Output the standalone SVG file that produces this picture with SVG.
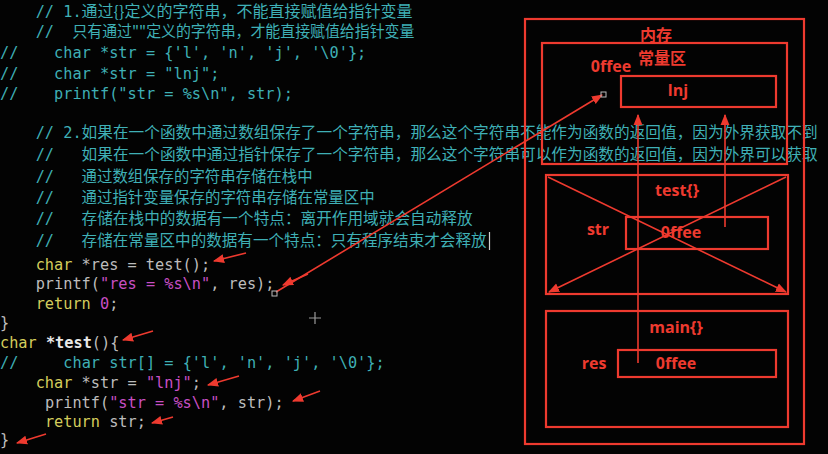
<svg xmlns="http://www.w3.org/2000/svg" width="828" height="454" viewBox="0 0 828 454">
<defs>
<style>
.c{font-family:"DejaVu Sans Mono","Liberation Mono",monospace;font-size:15.25px;fill:#bdbdbd}
.z{font-family:"Noto Sans CJK SC","DejaVu Sans Mono",sans-serif;font-size:15.5px;fill:#3fb0b6}
.cm{fill:#3fb0b6}
.kw{fill:#d4cd5c}
.st{fill:#c84fc4}
.bw{fill:#e8e8e8;font-weight:bold}
.box{fill:none;stroke:#ee3a2f;stroke-width:2.2}
.ln{fill:none;stroke:#ee3a2f;stroke-width:1.6}
.lb{font-family:"Open Sans","Liberation Sans","Noto Sans CJK SC",sans-serif;font-weight:bold;font-size:16px;fill:#ee3a2f;text-anchor:middle}
</style>
<marker id="ah" viewBox="0 0 10 10" refX="9" refY="5" markerWidth="7" markerHeight="7" orient="auto-start-reverse">
<path d="M0,1 L10,5 L0,9 Z" fill="#ee3a2f"/>
</marker>
</defs>
<rect width="828" height="454" fill="#030303"/>
<g id="code">
<text class="c cm" x="35.7" y="17">// 1.</text>
<text class="z" x="81.6" y="17" textLength="331" lengthAdjust="spacingAndGlyphs">通过{}定义的字符串，不能直接赋值给指针变量</text>
<text class="c cm" x="35.7" y="37">//</text>
<text class="z" x="72.4" y="37" textLength="342" lengthAdjust="spacingAndGlyphs">只有通过""定义的字符串，才能直接赋值给指针变量</text>
<text class="c cm" x="0" y="58">//</text>
<text class="c cm" x="54.1" y="58">char *str = {'l', 'n', 'j', '\0'};</text>
<text class="c cm" x="0" y="79">//</text>
<text class="c cm" x="54.1" y="79">char *str = "lnj";</text>
<text class="c cm" x="0" y="99">//</text>
<text class="c cm" x="54.1" y="99">printf("str = %s\n", str);</text>
<text class="c cm" x="35.7" y="138">// 2.</text>
<text class="z" x="81.6" y="138" textLength="736" lengthAdjust="spacingAndGlyphs">如果在一个函数中通过数组保存了一个字符串，那么这个字符串不能作为函数的返回值，因为外界获取不到</text>
<text class="c cm" x="35.7" y="160">//</text>
<text class="z" x="81.6" y="160" textLength="736" lengthAdjust="spacingAndGlyphs">如果在一个函数中通过指针保存了一个字符串，那么这个字符串可以作为函数的返回值，因为外界可以获取</text>
<text class="c cm" x="35.7" y="182">//</text>
<text class="z" x="81.6" y="182" textLength="231" lengthAdjust="spacingAndGlyphs">通过数组保存的字符串存储在栈中</text>
<text class="c cm" x="35.7" y="203">//</text>
<text class="z" x="81.6" y="203" textLength="293" lengthAdjust="spacingAndGlyphs">通过指针变量保存的字符串存储在常量区中</text>
<text class="c cm" x="35.7" y="224">//</text>
<text class="z" x="81.6" y="224" textLength="391" lengthAdjust="spacingAndGlyphs">存储在栈中的数据有一个特点：离开作用域就会自动释放</text>
<text class="c cm" x="35.7" y="246">//</text>
<text class="z" x="81.6" y="246" textLength="405" lengthAdjust="spacingAndGlyphs">存储在常量区中的数据有一个特点：只有程序结束才会释放</text>
<line x1="489.5" y1="232" x2="489.5" y2="250" stroke="#cfcfcf" stroke-width="1.2"/>
<text class="c" x="35.7" y="270"><tspan class="kw">char</tspan> *res = test();</text>
<text class="c" x="35.7" y="289">printf(<tspan class="st">"res = %s\n"</tspan>, res);</text>
<text class="c" x="35.7" y="309"><tspan class="kw">return</tspan> <tspan class="st">0</tspan>;</text>
<text class="c" x="0" y="328">}</text>
<text class="c" x="0" y="348"><tspan class="kw">char</tspan> <tspan class="bw">*test</tspan>(){</text>
<text class="c cm" x="0" y="368">//</text>
<text class="c cm" x="63.3" y="368">char str[] = {'l', 'n', 'j', '\0'};</text>
<text class="c" x="35.7" y="388"><tspan class="kw">char</tspan> *str = <tspan class="st">"lnj"</tspan>;</text>
<text class="c" x="44.9" y="408">printf(<tspan class="st">"str = %s\n"</tspan>, str);</text>
<text class="c" x="44.9" y="427"><tspan class="kw">return</tspan> str;</text>
<text class="c" x="0" y="445">}</text>
<path d="M309,318 h12 M315,312 v12" stroke="#9a9a9a" stroke-width="1.2"/>
</g>
<g id="memory">
<rect class="box" x="525" y="19" width="279" height="425"/>
<text class="lb" x="656" y="41">内存</text>
</g>
<g id="const-area">
<rect class="box" x="542" y="43" width="245" height="121"/>
<text class="lb" x="662" y="64">常量区</text>
<text class="lb" x="611" y="72">0ffee</text>
</g>
<g id="lnj">
<rect class="box" x="621" y="76" width="155" height="31"/>
<text class="lb" x="678" y="96">lnj</text>
</g>
<g id="test-frame">
<rect class="box" x="546" y="175" width="242" height="119"/>
<text class="lb" x="677" y="196">test{}</text>
<text class="lb" x="598" y="235">str</text>
</g>
<g id="test-str">
<rect class="box" x="626" y="217" width="142" height="32"/>
<text class="lb" x="681" y="238">0ffee</text>
</g>
<g id="main-frame">
<rect class="box" x="546" y="311" width="242" height="116"/>
<text class="lb" x="676" y="333">main{}</text>
<text class="lb" x="594" y="369">res</text>
</g>
<g id="main-res">
<rect class="box" x="618" y="350" width="158" height="27"/>
<text class="lb" x="676" y="369">0ffee</text>
</g>
<g id="connectors">
<line class="ln" x1="638" y1="363" x2="638" y2="115" marker-end="url(#ah)"/>
<line class="ln" x1="725" y1="227" x2="725" y2="115" marker-end="url(#ah)"/>
<line class="ln" x1="548" y1="177" x2="786" y2="292" marker-end="url(#ah)"/>
<line class="ln" x1="786" y1="177" x2="549" y2="292" marker-end="url(#ah)"/>
<line class="ln" x1="276" y1="292" x2="602" y2="95" marker-end="url(#ah)"/>
<rect x="601" y="92" width="5" height="5" fill="none" stroke="#bbbbbb" stroke-width="1"/>
<rect x="272" y="291" width="5" height="5" fill="none" stroke="#bbbbbb" stroke-width="1"/>
<line class="ln" x1="308" y1="274" x2="283" y2="285" marker-end="url(#ah)"/>
<line class="ln" x1="246" y1="253" x2="214" y2="261" marker-end="url(#ah)"/>
<line class="ln" x1="153" y1="331" x2="123" y2="340" marker-end="url(#ah)"/>
<line class="ln" x1="239" y1="376" x2="208" y2="385" marker-end="url(#ah)"/>
<line class="ln" x1="320" y1="391" x2="293" y2="401" marker-end="url(#ah)"/>
<line class="ln" x1="173" y1="417" x2="152" y2="423" marker-end="url(#ah)"/>
<line class="ln" x1="46" y1="434" x2="17" y2="443" marker-end="url(#ah)"/>
</g>
</svg>
